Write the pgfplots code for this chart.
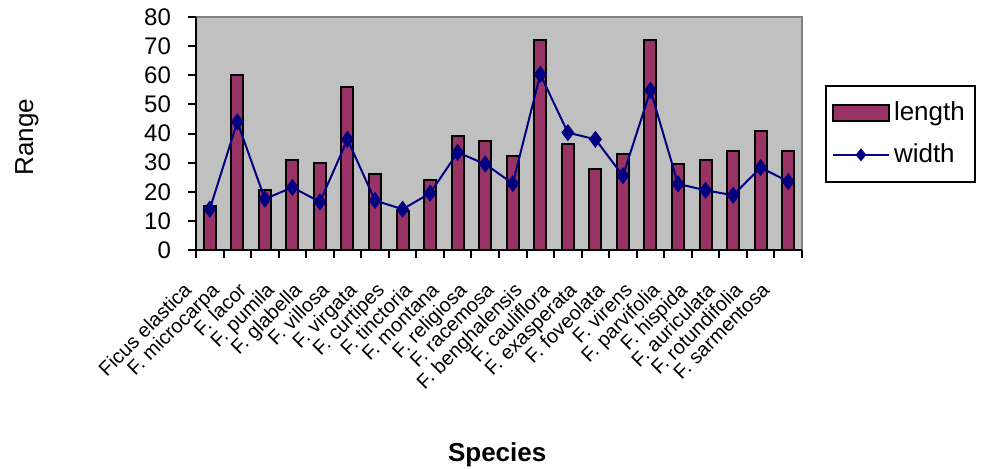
\documentclass[border=0pt]{standalone}
\usepackage{fontspec}
\setmainfont{Liberation Sans}
\usepackage{pgfplots}
\pgfplotsset{compat=1.18}
\definecolor{barcol}{HTML}{993366}
\definecolor{linecol}{HTML}{000080}
\definecolor{plotbg}{HTML}{C0C0C0}
\definecolor{frame}{HTML}{808080}
\begin{document}
\begin{tikzpicture}
\useasboundingbox (-98pt,-109.5pt) rectangle (392.5pt,125pt);
\begin{axis}[
  at={(0,0)}, anchor=south west,
  scale only axis, width=303pt, height=116.5pt,
  xmin=-0.5, xmax=21.5, ymin=0, ymax=80,
  axis lines=left,
  axis line style={-, black, line width=1pt},
  axis background/.style={fill=plotbg, draw=frame, line width=1pt},
  ytick={0,10,...,80},
  xtick={0,...,21},
  major x tick style={draw=none},
  minor xtick={-0.5,0.5,...,21.5},
  minor x tick style={black, line width=1pt},
  minor tick length=4pt,
  major tick length=4pt,
  tick align=outside,
  y tick style={black, line width=1pt},
  yticklabel style={font=\fontsize{12}{13}\selectfont, xshift=-5pt},
  /pgf/number format/assume math mode=true,
  xticklabels={Ficus elastica, F. microcarpa, F. lacor, F. pumila, F. glabella, F. villosa, F. virgata, F. curtipes, F. tinctoria, F. montana, F. religiosa, F. racemosa, F. benghalensis, F. cauliflora, F. exasperata, F. foveolata, F. virens, F. parvifolia, F. hispida, F. auriculata, F. rotundifolia, F. sarmentosa},
  xticklabel style={xshift=-13.7pt, yshift=-11.5pt, rotate=45, anchor=north east, font=\fontsize{10}{11}\selectfont, inner sep=0pt},
  legend style={at={(axis description cs:1.038,0.708)}, anchor=north west, draw=black, line width=1pt, font=\fontsize{13}{14}\selectfont, row sep=6pt, inner xsep=3pt, inner ysep=6pt, cells={anchor=west}},
  legend cell align=left,
  clip=false,
]
\addplot[ybar, bar width=6pt, fill=barcol, draw=black, line width=1pt,
  area legend, legend image code/.code={\draw[fill=barcol,draw=black,line width=1pt] (0pt,-4pt) rectangle (28pt,4pt);}]
  coordinates {(0,15) (1,60) (2,20.5) (3,31) (4,30) (5,56) (6,26) (7,13.5) (8,24) (9,39) (10,37.5) (11,32.3) (12,72) (13,36.3) (14,27.7) (15,33) (16,72) (17,29.5) (18,31) (19,34) (20,41) (21,34)};
\addlegendentry{length}
\addplot[linecol, line width=1pt, mark=diamond*, mark size=3.5pt, mark options={fill=linecol},
  legend image code/.code={\draw[linecol,line width=1pt] (0pt,0pt) -- (28pt,0pt); \fill[linecol] (14pt,0pt) +(-2pt,0) -- +(0,2.5pt) -- +(2pt,0) -- +(0,-2.5pt) -- cycle;}]
  coordinates {(0,14) (1,44) (2,17.5) (3,21.5) (4,16.5) (5,38) (6,17) (7,14) (8,19.5) (9,33.5) (10,29.5) (11,22.8) (12,60.3) (13,40.3) (14,38) (15,25.5) (16,54.8) (17,22.7) (18,20.5) (19,18.8) (20,28.3) (21,23.5)};
\addlegendentry{width}
\node[rotate=90, font=\fontsize{13}{14}\selectfont] at (axis description cs:-0.279,0.485) {Range};
\node[font=\bfseries\fontsize{13}{14}\selectfont] at (axis description cs:0.497,-0.88) {Species};
\end{axis}
\end{tikzpicture}
\end{document}
